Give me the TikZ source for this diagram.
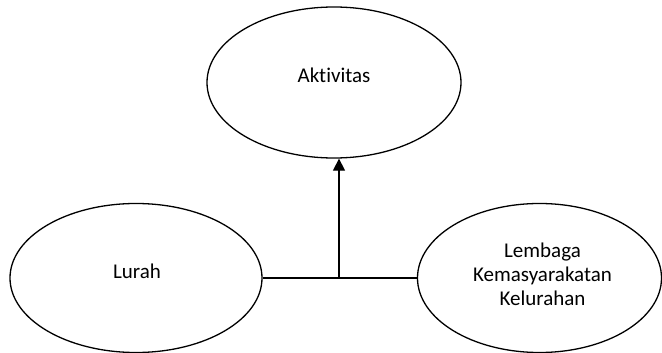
\documentclass[tikz,border=0pt]{standalone}
\usepackage{fontspec}
\setmainfont[Ligatures={CommonOff}]{Carlito}
\usetikzlibrary{shapes.geometric,arrows.meta}
\tikzset{
  oval/.style={draw, ellipse, line width=1.3pt, inner sep=0pt},
  lbl/.style={font=\fontsize{21}{24.5}\selectfont, inner sep=0pt, align=center},
  conn/.style={line width=1.3pt},
  arr/.style={conn, -{Triangle[width=12pt,length=12pt]}}
}
\begin{document}
\begin{tikzpicture}[x=1pt,y=-1pt]
\useasboundingbox[fill=white] (0,0) rectangle (662,353);
\node[oval, minimum width=254pt, minimum height=151pt] (akt) at (334,82.5) {};
\node[oval, minimum width=252pt, minimum height=149pt] (lurah) at (136,278) {};
\node[oval, minimum width=244pt, minimum height=149pt] (lemb) at (539.5,278) {};
\node[lbl, anchor=base] (taktiv) at (334,83) {Aktivitas};
\node[lbl, anchor=base] (tlurah) at (137,278) {Lurah};
\node[lbl, anchor=base] (tlemb1) at (542.5,257) {Lembaga};
\node[lbl, anchor=base] (tlemb2) at (542.5,281) {Kemasyarakatan};
\node[lbl, anchor=base] (tlemb3) at (542.5,305) {Kelurahan};
\coordinate (j) at (339,278);
\draw[conn] (lurah.east) -- (lemb.west);
\draw[arr] (j) -- (j |- akt.south);
\end{tikzpicture}
\end{document}
